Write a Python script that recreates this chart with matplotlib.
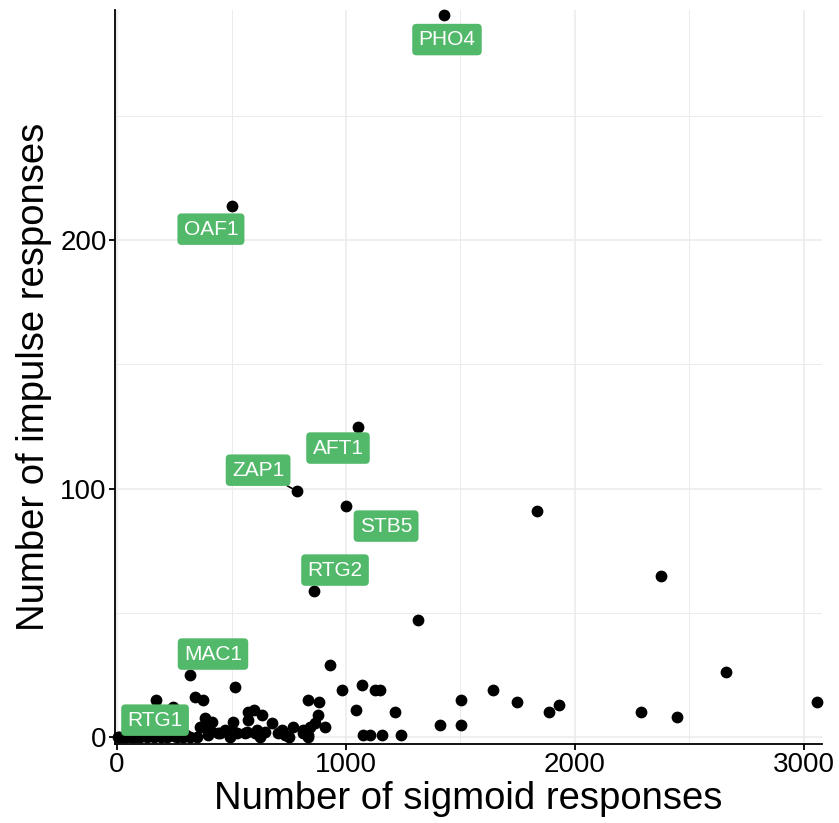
import numpy as np
import matplotlib
matplotlib.use('Agg')
import matplotlib.pyplot as plt

plt.rcParams['font.family'] = ['Liberation Sans', 'DejaVu Sans']

# labelled transcription factors: point and label position
tf_names = ['PHO4', 'OAF1', 'AFT1', 'ZAP1', 'STB5', 'RTG2', 'MAC1', 'RTG1']
tf_sigmoid = [1428, 502, 1052, 786, 1000, 860, 320, 5]
tf_impulse = [290.5, 213.7, 124.7, 99, 93, 58.8, 25, 0]
lab_x = [1441, 410, 965, 616, 1175, 952, 419, 166]
lab_y = [280.7, 204.4, 116.3, 107.4, 84.9, 67.2, 33.4, 6.8]

# all other factors
other_sigmoid = [1834, 2376, 1314, 928, 2659, 3055,
                 1642, 1747, 1886, 1930, 2288, 2445,
                 1148, 1214, 1410, 1502, 1502, 1157, 1240,
                 170, 516, 340, 374, 245,
                 982, 1070, 1125, 1044,
                 833, 881, 877, 908, 1074, 1105,
                 570, 597, 634, 571, 508, 389, 362, 406, 675, 719, 767, 813, 834, 865, 843,
                 566, 610, 485, 441, 646, 348, 472, 523, 559, 603, 704, 734, 814, 835,
                 493, 624, 750, 384, 413, 370, 399, 450, 501,
                 10, 25, 40, 60, 80, 100, 130, 160, 190, 220, 260, 290, 320, 300, 250]
other_impulse = [91, 65, 47, 29, 26, 14,
                 19, 14, 10, 13, 10, 8,
                 19, 10, 5, 5, 15, 1, 1,
                 15, 20, 16, 15, 12,
                 19, 21, 19, 11,
                 15, 14, 9, 4, 1, 1,
                 10, 11, 9, 7, 6, 6, 4, 3, 5.5, 3, 4, 3, 1, 5.5, 4,
                 2, 3, 2, 1.5, 2, 0, 3, 1.5, 1.7, 1.5, 1.5, 1, 1.5, 0,
                 0, 0, 0, 7.5, 6, 4, 1, 1.5, 3,
                 0, 0, 0, 0, 0, 0, 0, 0, 0, 0, 0, 0, 0, 1, 0.5]

green = '#53B96A'

fig = plt.figure(figsize=(8.39, 8.23), dpi=100)
ax = fig.add_axes([115/839, 1-744/823, (822-115)/839, (744-10)/823])

ax.set_xlim(-9, 3079)
ax.set_ylim(-2.8, 292.6)

ax.set_xticks([0, 1000, 2000, 3000])
ax.set_yticks([0, 100, 200])
ax.set_xticks([500, 1500, 2500], minor=True)
ax.set_yticks([50, 150, 250], minor=True)
ax.grid(True, which='major', color='#EBEBEB', lw=1.1)
ax.grid(True, which='minor', color='#EBEBEB', lw=0.7)
ax.set_axisbelow(True)
for s in ['top', 'right']:
    ax.spines[s].set_visible(False)
for s in ['left', 'bottom']:
    ax.spines[s].set_linewidth(1.3)
ax.tick_params(which='major', length=4, width=1.3, labelsize=20, pad=2, colors='black')
ax.tick_params(which='minor', length=0)

allx = other_sigmoid + tf_sigmoid
ally = other_impulse + tf_impulse
ax.scatter(allx, ally, s=72, color='black', lw=0, zorder=3, clip_on=False)

for i, name in enumerate(tf_names):
    arrow = None
    if name == 'ZAP1':
        arrow = dict(arrowstyle='-', color='black', lw=1.2, shrinkA=0, shrinkB=4)
    ax.annotate(name, xy=(tf_sigmoid[i], tf_impulse[i]), xytext=(lab_x[i], lab_y[i]),
                textcoords='data', ha='center', va='center', fontsize=15, color='white',
                bbox=dict(boxstyle='round,pad=0.3,rounding_size=0.2', fc=green, ec='none'),
                arrowprops=arrow, zorder=5)

ax.set_xlabel('Number of sigmoid responses', fontsize=27.5, labelpad=2)
ax.set_ylabel('Number of impulse responses', fontsize=27.5, labelpad=6)

fig.savefig('out.png', dpi=100)
